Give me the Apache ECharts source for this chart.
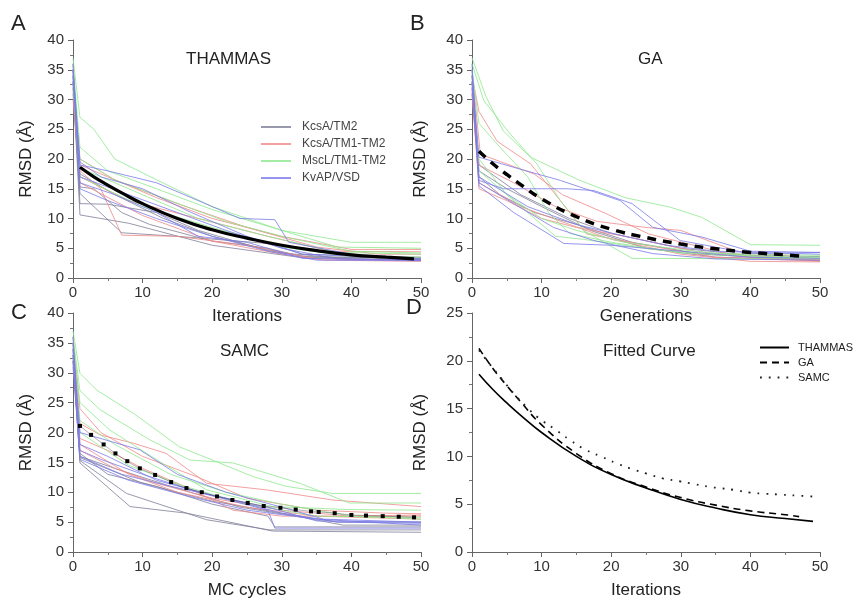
<!DOCTYPE html>
<html><head><meta charset="utf-8">
<script src="https://cdn.jsdelivr.net/npm/echarts@6/dist/echarts.min.js"></script>
<style>html,body{margin:0;padding:0;background:#fff}#c{width:857px;height:601px}</style>
</head><body><div id="c"></div>
<script>
// ---------- categories / labels ----------
const categories = ['KcsA/TM2', 'KcsA/TM1-TM2', 'MscL/TM1-TM2', 'KvAP/VSD'];
const methods = ['THAMMAS', 'GA', 'SAMC'];
const xTicks = [0, 10, 20, 30, 40, 50];
const yTicksABC = [0, 5, 10, 15, 20, 25, 30, 35, 40];
const yTicksD = [0, 5, 10, 15, 20, 25];

// ---------- Panel A: THAMMAS runs [iteration, RMSD] ----------
const A_kcsaTM2 = [
  [[0,33],[1,10.6],[8,9.2],[20,5.5],[33,3.4],[50,3.0]],
  [[0,32],[1,15.3],[3,15],[7,11],[11,9],[20,6.2],[28,5],[33,3.6],[50,3.3]],
  [[0,34],[1,12.5],[5,12.4],[12,11],[18,8],[28,4.6],[34,3.5],[50,3.4]],
  [[0,31],[1,14.2],[7,7.6],[15,7],[28,5.8],[33,4],[50,3.5]],
  [[0,35],[1,17.5],[6,14],[13,10],[20,7],[30,4.2],[40,3.2],[50,3.1]]
];
const A_kcsaTM1TM2 = [
  [[0,36],[1,18],[4,15],[7,7.2],[15,7],[25,5.5],[35,3.2],[50,3]],
  [[0,34],[1,19],[5,17],[12,13.5],[20,10],[30,7],[40,4.8],[50,4.8]],
  [[0,30],[1,17],[8,13],[18,10],[28,7],[37,4.5],[50,4.4]],
  [[0,33],[1,20],[6,16.5],[15,12.5],[25,8.5],[35,5.2],[44,4],[50,4]],
  [[0,35],[1,16],[10,10.5],[20,6.2],[30,4],[36,3],[50,2.8]]
];
const A_msclTM1TM2 = [
  [[0,37],[1,27],[3,25],[6,20],[12,16.5],[20,12],[30,8],[40,6],[50,6]],
  [[0,36],[1,22],[5,18],[12,15],[20,11.5],[30,8],[38,5.2],[50,5]],
  [[0,34],[1,20],[6,16.5],[14,13],[22,9.5],[30,7],[40,4.5],[50,4.2]],
  [[0,32],[1,18.5],[8,15],[18,10],[28,7],[38,4.3],[50,4]],
  [[0,33],[1,17],[10,12],[20,8.5],[30,5.2],[40,3.6],[50,3.5]]
];
const A_kvapVSD = [
  [[0,35],[1,19],[5,18],[12,16],[20,12],[24,10],[29,9.8],[31,6],[40,4],[50,3.2]],
  [[0,34],[1,16],[6,14],[12,11],[18,7],[25,6],[33,3.3],[50,3]],
  [[0,33],[1,17],[8,14],[15,11],[22,8],[30,5],[38,3.2],[50,3]],
  [[0,36],[1,15],[5,13],[12,10],[20,7],[28,4.5],[35,3],[50,2.9]],
  [[0,35],[1,19.5],[4,17],[10,15],[17,11],[25,7],[33,4],[50,3.2]]
];

// ---------- Panel B: GA runs [generation, RMSD] ----------
const B_kcsaTM2 = [
  [[0,33],[1,18],[5,15],[10,12],[17,8],[25,5],[35,3.5],[50,3]],
  [[0,34],[1,19],[7,14],[14,10],[20,7.5],[30,5],[40,3.8],[50,3.6]],
  [[0,31],[1,17],[4,14],[9,11],[15,9],[23,6],[33,4],[50,2.9]]
];
const B_kcsaTM1TM2 = [
  [[0,34],[1,28],[3.6,23],[8.4,19.2],[12.7,13],[16.5,7.4],[25,5.5],[35,3.5],[50,3]],
  [[0,35],[1.2,20.8],[8.9,17.5],[13,14],[19.3,10.8],[25.4,7.4],[37,4],[50,3]],
  [[0,33],[1,19],[6,16],[12,12],[18,9.5],[25,8.5],[30,8],[38,4.5],[50,3.2]],
  [[0,32],[1,15],[5,13],[10,10],[15,8.5],[22,7],[32,4.5],[42,3.2],[50,2.8]],
  [[0,31],[1,16],[7,12],[14,9],[20,6.5],[30,4],[40,2.8],[50,2.7]]
];
const B_msclTM1TM2 = [
  [[0,37],[2,30.5],[4.5,24.7],[8.4,20.3],[15.5,16.4],[22,13.5],[28.5,11.9],[33,10.2],[40,5.6],[50,5.5]],
  [[0,36],[1.7,29.8],[5.5,24.2],[9.3,19.2],[12.7,13],[16,8],[23,3.3],[50,3.2]],
  [[0,35],[1,26],[4,22],[8,17],[11,11],[14,7.5],[20,6],[30,4.2],[50,3.8]],
  [[0,34],[1,20],[5,14],[10,10],[15,8],[22,6],[32,4.5],[42,3.5],[50,3.4]],
  [[0,33],[1,18],[6,13],[12,7],[16,6.5],[26,4.8],[36,3.8],[50,3.5]]
];
const B_kvapVSD = [
  [[0,35],[1,16.4],[4.5,15],[13.6,15],[17.5,14.7],[23,12.5],[29.9,6.3],[40,4.1],[50,4.3]],
  [[0,34],[1,20.3],[6,18.6],[12.7,16.4],[21.3,13],[26,8.5],[33,6.9],[40,4.5],[50,4.3]],
  [[0,36],[1,16],[11.7,8.5],[17.5,6.3],[26,4.1],[35,3.2],[50,3]],
  [[0,33],[1,15.5],[6,11],[13.2,5.8],[20,5.5],[30,4.5],[40,3.5],[50,3.3]],
  [[0,32],[1,17],[8,12],[15,9],[22,7],[28,5.5],[35,4.5],[50,4]]
];

// ---------- Panel C: SAMC runs [MC cycle, RMSD] ----------
const C_kcsaTM2 = [
  [[0,33],[1,14.9],[8.2,7.6],[16.3,6.5],[28.7,3.5],[50,3.3]],
  [[0,34],[1,15.3],[7.7,9.8],[19.2,5.4],[28.2,3.7],[50,3.7]],
  [[0,35],[1,16],[6,14],[14,11],[24,7.5],[32,6],[38.8,4.5],[50,4.5]],
  [[0,32],[1,16.5],[5,13],[12,11],[20,8],[28,6],[29,4.2],[50,4.2]],
  [[0,31],[1,15.8],[10,11.5],[20,8.5],[30,6.5],[38,5],[50,5]]
];
const C_kcsaTM1TM2 = [
  [[0,35],[1,21.5],[3.9,19.6],[8.7,18.2],[13.4,16.5],[19.2,11.5],[27.8,10.4],[37.3,8.7],[50,7.6]],
  [[0,34],[1,19],[5,17],[10,14],[16,11],[23,7],[30,6],[50,6]],
  [[0,36],[1,24],[4,20],[10,16],[18,12.5],[25,9],[35,7],[45,6.5],[50,6.4]],
  [[0,32],[1,17],[6,14],[12,11.5],[20,9],[30,7],[40,6],[50,6.2]],
  [[0,33],[1,18],[8,13],[15,10],[25,7.5],[35,6],[50,5.5]]
];
const C_msclTM1TM2 = [
  [[0,37],[1,29.9],[3.4,27.1],[8.7,23.2],[15.3,17.6],[20,15.4],[25.9,12.6],[30.6,11],[37.3,9.8],[50,9.8]],
  [[0,36],[1,27],[3.9,23.8],[11,18.8],[16.8,15.4],[23,14.9],[32.6,11.5],[39.7,8.2],[50,8.2]],
  [[0,35],[1,25],[5.3,20.4],[12.5,15.1],[19.2,10.4],[28.7,7.6],[39.7,7.1],[50,7]],
  [[0,34],[1,22],[6,18],[14,13],[22,10],[30,8],[40,6],[50,5.5]],
  [[0,33],[1,20],[8,14.5],[16,11],[25,8],[35,6],[50,5.8]]
];
const C_kvapVSD = [
  [[0,35],[1,20],[9.6,17.1],[15,13],[22,10],[30,7.5],[36,5.5],[50,5]],
  [[0,34],[1,18],[5,16],[12,12],[20,9.5],[28,7.5],[35,5.2],[50,5]],
  [[0,33],[1,16],[7,13],[14,11],[22,9],[30,6.5],[38,5],[50,4.8]],
  [[0,36],[1,17],[4,15.5],[10,13],[18,10],[28,7],[29,4],[50,4]],
  [[0,32],[1,15.5],[8,12],[16,9.5],[25,7],[35,5.5],[50,4.5]]
];

// ---------- Fitted curves ----------
const fitTHAMMAS = [[1,18.6],[3,17.0],[5,15.6],[7,14.3],[10,12.5],[15,10.0],[20,8.1],[25,6.7],[30,5.5],[35,4.6],[40,3.9],[45,3.5],[49,3.2]];
const fitGA = [[1,21.3],[3,19.2],[5,17.4],[7,15.7],[10,13.3],[15,10.3],[20,8.2],[25,6.8],[30,5.7],[35,4.9],[40,4.3],[45,3.9],[47,3.7]];
const fitSAMC = [[1,21.1],[2.6,19.6],[4.4,18.0],[6.1,16.5],[7.8,15.2],[9.6,14.0],[11.8,12.9],[14.1,11.7],[16.3,10.7],[18.5,10.0],[20.7,9.3],[22.9,8.7],[25.1,8.2],[27.4,7.7],[29.8,7.4],[32,7.1],[34.2,6.8],[35.3,6.7],[37.6,6.5],[40,6.2],[42.1,6.1],[44.5,6.0],[46.8,5.9],[49,5.8]];

// ---------- build ----------
const FONT = 'Liberation Sans, Arial, sans-serif';
const colors = {'KcsA/TM2':'#80809a','KcsA/TM1-TM2':'#f08888','MscL/TM1-TM2':'#8ee88e','KvAP/VSD':'#7a7ae8'};
const panels = [
  [A_kcsaTM2, A_kcsaTM1TM2, A_msclTM1TM2, A_kvapVSD],
  [B_kcsaTM2, B_kcsaTM1TM2, B_msclTM1TM2, B_kvapVSD],
  [C_kcsaTM2, C_kcsaTM1TM2, C_msclTM1TM2, C_kvapVSD]
];
const series = [];
panels.forEach((groups, p) => {
  groups.forEach((runs, ci) => {
    runs.forEach(run => {
      series.push({type:'line', name: categories[ci], xAxisIndex:p, yAxisIndex:p, data: run,
        symbol:'none', silent:true, z:2,
        itemStyle:{color: colors[categories[ci]]},
        lineStyle:{width:1, color: colors[categories[ci]], opacity:0.8}});
    });
  });
});
series.push({type:'line', name:'fitA', xAxisIndex:0, yAxisIndex:0, data:fitTHAMMAS, smooth:true, symbol:'none', z:5,
  lineStyle:{width:3.2, color:'#000'}});
series.push({type:'line', name:'fitB', xAxisIndex:1, yAxisIndex:1, data:fitGA, smooth:true, symbol:'none', z:5,
  lineStyle:{width:3.5, color:'#000', type:[9,7]}});
series.push({type:'line', name:'fitC', xAxisIndex:2, yAxisIndex:2, data:fitSAMC, smooth:true, symbol:'rect', symbolSize:4, showSymbol:true, z:5,
  itemStyle:{color:'#000'}, lineStyle:{width:0.8, color:'#333', opacity:0.5}});
series.push({type:'line', name:methods[0], xAxisIndex:3, yAxisIndex:3, data:fitTHAMMAS, smooth:true, symbol:'none',
  itemStyle:{color:'#000'}, lineStyle:{width:1.6, color:'#000'}});
series.push({type:'line', name:methods[1], xAxisIndex:3, yAxisIndex:3, data:fitGA, smooth:true, symbol:'none',
  itemStyle:{color:'#000'}, lineStyle:{width:1.6, color:'#000', type:[7,5]}});
series.push({type:'line', name:methods[2], xAxisIndex:3, yAxisIndex:3, data:fitSAMC, smooth:true, symbol:'none',
  itemStyle:{color:'#222'}, lineStyle:{width:1.8, color:'#222', type:[1.8,7]}});

const grids = [
  {left:73, top:40, width:348, height:238},
  {left:472, top:40, width:348, height:238},
  {left:73, top:313, width:348, height:239},
  {left:472, top:313, width:348, height:239}
];
const xNames = ['Iterations', 'Generations', 'MC cycles', 'Iterations'];
const axisCommon = {
  axisLine:{show:true, onZero:false, lineStyle:{color:'#666', width:1}},
  axisTick:{show:true, inside:false, length:5, lineStyle:{color:'#666'}},
  minorTick:{show:true, splitNumber:2, length:3, lineStyle:{color:'#777'}},
  splitLine:{show:false},
  axisLabel:{color:'#333', fontSize:15, fontFamily:FONT}
};
const xAxes = grids.map((g,i) => Object.assign({}, axisCommon, {
  type:'value', gridIndex:i, min:xTicks[0], max:xTicks[xTicks.length-1], interval:xTicks[1]-xTicks[0],
  name:xNames[i], nameLocation:'middle', nameGap:30,
  nameTextStyle:{fontSize:17, color:'#222', fontFamily:FONT},
  axisLabel:{color:'#333', fontSize:15, fontFamily:FONT, margin:7}
}));
const yAxes = grids.map((g,i) => {
  const t = i === 3 ? yTicksD : yTicksABC;
  return Object.assign({}, axisCommon, {
    type:'value', gridIndex:i, min:t[0], max:t[t.length-1], interval:t[1]-t[0],
    name:'RMSD (Å)', nameLocation:'middle', nameGap: i%2===0 ? 38 : 43,
    nameTextStyle:{fontSize:17, color:'#222', fontFamily:FONT},
    axisLabel:{color:'#333', fontSize:15, fontFamily:FONT, margin:9}
  });
});

const txt = (x, y, s, size, align) => ({type:'text', left:x, top:y, z:20,
  style:{text:s, font: size + 'px ' + FONT, fill:'#222', textAlign: align || 'left'}});

const option = {
  animation:false,
  backgroundColor:'#fff',
  grid: grids,
  xAxis: xAxes,
  yAxis: yAxes,
  legend: [
    {data: categories, orient:'vertical', left:255, top:116, itemWidth:30, itemHeight:12, itemGap:5,
     itemStyle:{opacity:0}, lineStyle:{inactiveWidth:1},
     textStyle:{fontSize:12, color:'#444', fontFamily:FONT, padding:[0,0,0,6]}, selectedMode:false},
    {data: methods, orient:'vertical', left:754, top:337, itemWidth:29, itemHeight:10, itemGap:4,
     itemStyle:{opacity:0},
     textStyle:{fontSize:11, color:'#222', fontFamily:FONT, padding:[0,0,0,4]}, selectedMode:false}
  ],
  graphic: [
    txt(11, 13, 'A', 22), txt(410, 13, 'B', 22), txt(11, 302, 'C', 22), txt(406, 297, 'D', 22),
    txt(186, 51, 'THAMMAS', 17), txt(638, 51, 'GA', 17), txt(220, 343, 'SAMC', 17), txt(603, 343, 'Fitted Curve', 17)
  ],
  series: series
};
echarts.init(document.getElementById('c'), null, {renderer:'canvas'}).setOption(option);
</script>
</body></html>
